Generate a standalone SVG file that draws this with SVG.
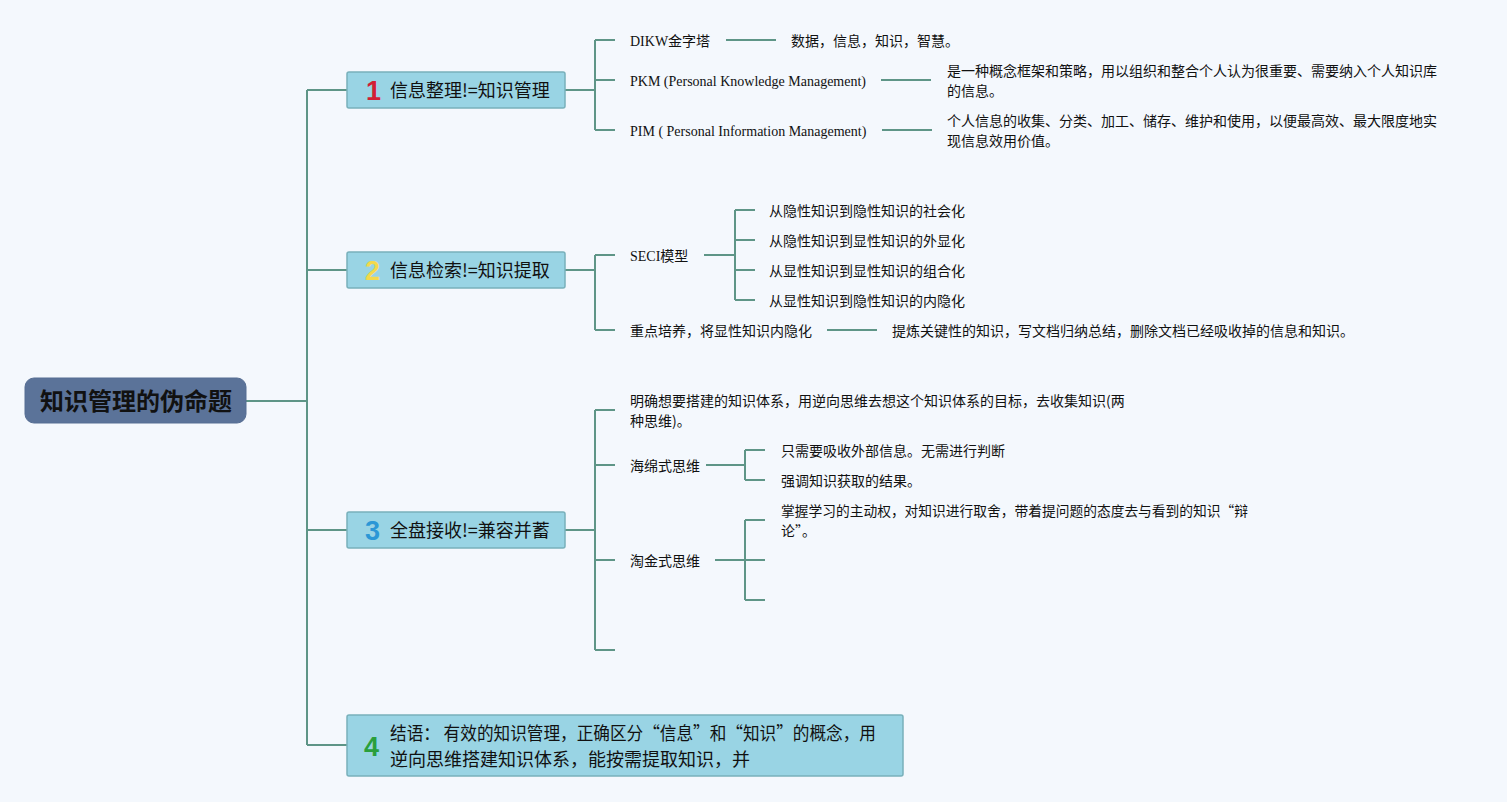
<svg xmlns="http://www.w3.org/2000/svg" width="1507" height="802" viewBox="0 0 1507 802">
<style>
.bg{fill:#f4f8fd}
.ln{fill:none;stroke:#5e9587;stroke-width:2}
.root{fill:#5b7399;stroke:#566e93;stroke-width:1}
.rt{font-family:"Noto Sans CJK SC",sans-serif;font-size:24px;font-weight:bold;fill:#111}
.mb{fill:#99d4e4;stroke:#78b0bb;stroke-width:1.5}
.mt{font-family:"Noto Sans CJK SC",sans-serif;font-size:18px;fill:#111}
.num{font-family:"Liberation Sans",Arial,sans-serif;font-size:27px;font-weight:bold}
.st{font-family:"Liberation Serif","Noto Sans CJK SC",serif;font-size:14px;fill:#111}
.cn{font-family:"Noto Sans CJK SC",sans-serif;font-size:14px;fill:#111}
</style>
<rect class="bg" x="0" y="0" width="1507" height="802"/>
<g id="connectors">
<path class="ln" d="M246,401 H307 M307,90 V745 M307,90 H347 M307,270 H347 M307,530 H347 M307,745 H347"/>
<path class="ln" d="M565,90 H595 M595,40 V130 M595,40 H615 M595,80 H615 M595,130 H615"/>
<path class="ln" d="M726,40 H776 M881,80 H931 M882,130 H932"/>
<path class="ln" d="M565,270 H595 M595,255 V330 M595,255 H615 M595,330 H615"/>
<path class="ln" d="M704,255 H735 M735,210 V300 M735,210 H755 M735,240 H755 M735,270 H755 M735,300 H755"/>
<path class="ln" d="M827,330 H877"/>
<path class="ln" d="M565,530 H595 M595,410 V650 M595,410 H615 M595,465 H615 M595,560 H615 M595,650 H615"/>
<path class="ln" d="M706,465 H745 M745,450 V480 M745,450 H765 M745,480 H765"/>
<path class="ln" d="M715,560 H745 M745,520 V600 M745,520 H765 M745,560 H765 M745,600 H765"/>
</g>
<g id="root">
<rect class="root" x="25" y="378" width="221" height="45" rx="9"/>
<text class="rt" x="136" y="410" text-anchor="middle">知识管理的伪命题</text>
</g>
<g id="topic1">
<rect class="mb" x="347" y="72" width="218" height="36" rx="2"/>
<text class="num" x="366" y="100" fill="#d21f35">1</text>
<text class="mt" x="390" y="97">信息整理!=知识管理</text>
</g>
<g id="topic2">
<rect class="mb" x="347" y="252" width="218" height="36" rx="2"/>
<text class="num" x="365" y="280" fill="#f3d94c">2</text>
<text class="mt" x="390" y="277">信息检索!=知识提取</text>
</g>
<g id="topic3">
<rect class="mb" x="347" y="512" width="218" height="36" rx="2"/>
<text class="num" x="365" y="540" fill="#2b97d6">3</text>
<text class="mt" x="390" y="537">全盘接收!=兼容并蓄</text>
</g>
<g id="topic4">
<rect class="mb" x="347" y="715" width="556" height="61" rx="2"/>
<text class="num" x="364" y="756" fill="#2a9f3c">4</text>
<text class="mt" x="390" y="740" textLength="486" lengthAdjust="spacingAndGlyphs">结语： 有效的知识管理，正确区分“信息”和“知识”的概念，用</text>
<text class="mt" x="390" y="766">逆向思维搭建知识体系，能按需提取知识，并</text>
</g>
<g id="dikw"><text class="st" x="630" y="46">DIKW金字塔</text></g>
<g id="dikw-desc"><text class="cn" x="791" y="46">数据，信息，知识，智慧。</text></g>
<g id="pkm"><text class="st" x="630" y="86">PKM (Personal Knowledge Management)</text></g>
<g id="pkm-desc">
<text class="cn" x="947" y="76">是一种概念框架和策略，用以组织和整合个人认为很重要、需要纳入个人知识库</text>
<text class="cn" x="947" y="96">的信息。</text>
</g>
<g id="pim"><text class="st" x="630" y="136">PIM ( Personal Information Management)</text></g>
<g id="pim-desc">
<text class="cn" x="947" y="126">个人信息的收集、分类、加工、储存、维护和使用，以便最高效、最大限度地实</text>
<text class="cn" x="947" y="146">现信息效用价值。</text>
</g>
<g id="seci"><text class="st" x="630" y="261">SECI模型</text></g>
<g id="seci-1"><text class="cn" x="769" y="216">从隐性知识到隐性知识的社会化</text></g>
<g id="seci-2"><text class="cn" x="769" y="246">从隐性知识到显性知识的外显化</text></g>
<g id="seci-3"><text class="cn" x="769" y="276">从显性知识到显性知识的组合化</text></g>
<g id="seci-4"><text class="cn" x="769" y="306">从显性知识到隐性知识的内隐化</text></g>
<g id="focus"><text class="cn" x="630" y="336">重点培养，将显性知识内隐化</text></g>
<g id="focus-desc"><text class="cn" x="892" y="336">提炼关键性的知识，写文档归纳总结，删除文档已经吸收掉的信息和知识。</text></g>
<g id="clear">
<text class="cn" x="630" y="406">明确想要搭建的知识体系，用逆向思维去想这个知识体系的目标，去收集知识(两</text>
<text class="cn" x="630" y="426">种思维)。</text>
</g>
<g id="sponge"><text class="cn" x="630" y="471">海绵式思维</text></g>
<g id="sponge-1"><text class="cn" x="781" y="456">只需要吸收外部信息。无需进行判断</text></g>
<g id="sponge-2"><text class="cn" x="781" y="486">强调知识获取的结果。</text></g>
<g id="gold"><text class="cn" x="630" y="566">淘金式思维</text></g>
<g id="gold-1">
<text class="cn" x="781" y="516" textLength="467" lengthAdjust="spacingAndGlyphs">掌握学习的主动权，对知识进行取舍，带着提问题的态度去与看到的知识“辩</text>
<text class="cn" x="781" y="536">论”。</text>
</g>
</svg>
